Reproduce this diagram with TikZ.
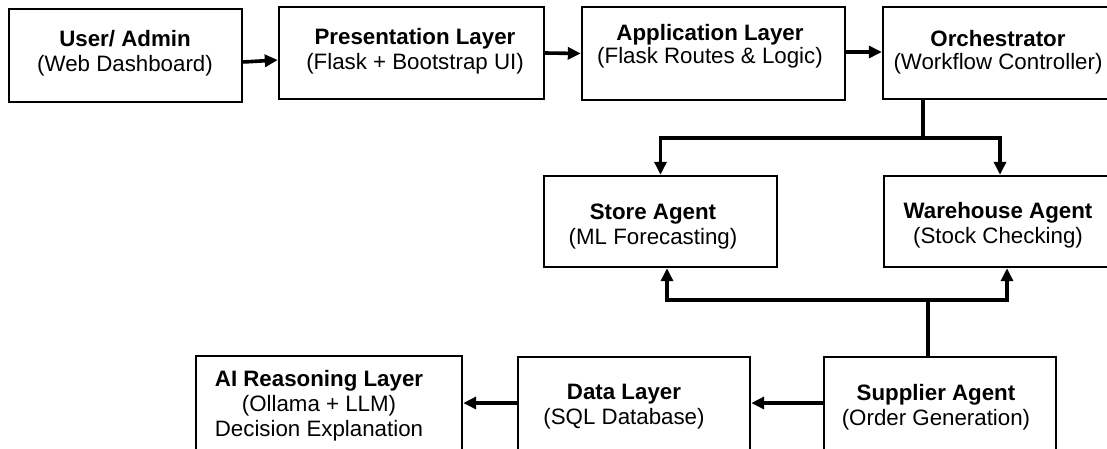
\documentclass[tikz,border=0pt]{standalone}
\usepackage{fontspec}
\setmainfont{Liberation Sans}
\usetikzlibrary{arrows.meta}
\begin{document}
\begin{tikzpicture}[x=1pt,y=-1pt,
  box/.style={draw=black, line width=2.4pt, rectangle, inner sep=0pt},
  txt/.style={align=center, inner sep=0pt, font=\fontsize{22.3}{25}\selectfont},
  txtt/.style={align=center, inner sep=0pt, font=\fontsize{22.3}{22.5}\selectfont},
  conn/.style={line width=3.6pt, -{Triangle[length=13pt,width=12pt]}},
  conn2/.style={line width=3.6pt, {Triangle[length=13pt,width=12pt]}-{Triangle[length=13pt,width=12pt]}},
  plain/.style={line width=3.6pt}]
\useasboundingbox (0,0) rectangle (1107,448);
\fill[white] (0,0) rectangle (1107,448);
\clip (0,0) rectangle (1107,448);

% boxes
\node[box, minimum width=233pt, minimum height=93pt] (user) at (125.5,55.5) {};
\node[box, minimum width=265pt, minimum height=92pt] (pres) at (411.5,53) {};
\node[box, minimum width=263pt, minimum height=93pt] (app) at (713.5,53.5) {};
\node[box, minimum width=229pt, minimum height=92pt] (orch) at (997.5,53) {};
\node[box, minimum width=233pt, minimum height=91pt] (store) at (660.5,221.5) {};
\node[box, minimum width=228pt, minimum height=91pt] (ware) at (998,221.5) {};
\node[box, minimum width=232pt, minimum height=113pt] (supp) at (940,413.5) {};
\node[box, minimum width=232pt, minimum height=113pt] (data) at (634,413.5) {};
\node[box, minimum width=266pt, minimum height=114pt] (ai) at (329,413) {};

% texts
\node[txt] (usert) at (125,53) {\bfseries User/ Admin\\(Web Dashboard)};
\node[txt] (prest) at (415,51) {\bfseries Presentation Layer\\(Flask + Bootstrap UI)};
\node[txtt] (appt) at (710,46) {\bfseries Application Layer\\(Flask Routes \& Logic)};
\node[txtt] (orcht) at (998,52) {\bfseries Orchestrator\\(Workflow Controller)};
\node[txt] (storet) at (653,227) {\bfseries Store Agent\\(ML Forecasting)};
\node[txt] (waret) at (998,225) {\bfseries Warehouse Agent\\(Stock Checking)};
\node[txt] (suppt) at (936,407) {\bfseries Supplier Agent\\(Order Generation)};
\node[txt] (datat) at (624,407) {\bfseries Data Layer\\(SQL Database)};
\node[txt] (ait) at (319,406) {\bfseries AI Reasoning Layer\\(Ollama + LLM)\\Decision Explanation};

% connectors
\draw[conn] ([yshift=-6.5pt]user.east) -- ([yshift=-7pt]pres.west);
\draw[conn] (pres.east) -- (app.west);
\draw[conn] ([yshift=1.5pt]app.east) -- ([yshift=1pt]orch.west);

\coordinate (j1) at (923,138);
\draw[plain] (j1 |- orch.south) -- (j1);
\draw[conn2] (store.north) |- (j1) -| ([xshift=2pt]ware.north);

\coordinate (j2) at (928,300);
\draw[conn2] ([xshift=6.5pt]store.south) |- (j2) -| ([xshift=9pt]ware.south);
\draw[plain] (j2) -- (j2 |- supp.north);

\draw[conn] ([yshift=10.5pt]supp.west) -- ([yshift=10.5pt]data.east);
\draw[conn] ([yshift=10.5pt]data.west) -- ([yshift=10pt]ai.east);
\end{tikzpicture}
\end{document}
